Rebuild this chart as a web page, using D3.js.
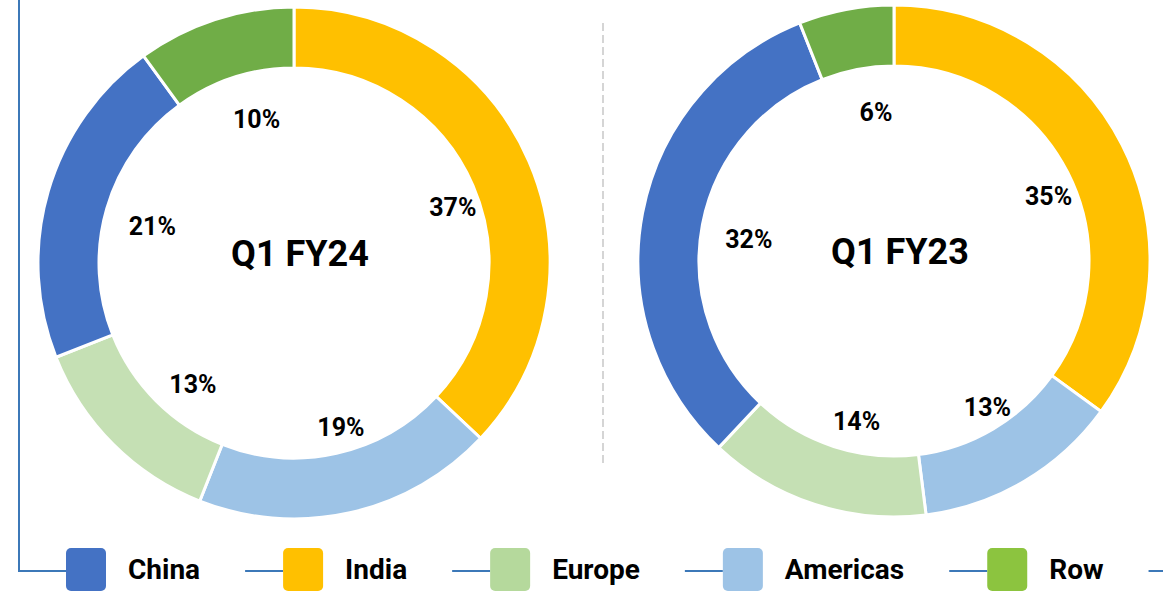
<!DOCTYPE html>
<html>
<head>
<meta charset="utf-8">
<script src="https://cdn.jsdelivr.net/npm/d3@7"></script>
<style>
	body { margin: 0; background: #fff; }
	svg { display: block; font-family: Roboto, "Noto Sans", sans-serif; }
</style>
</head>
<body>
<div id="chart"></div>
<script>
// Chart data
const categories = ['China', 'India', 'Europe', 'Americas', 'Row'];
// clockwise order, starting at 12 o'clock
const sliceOrder = ['India', 'Americas', 'Europe', 'China', 'Row'];
const fy24Values = [21, 37, 13, 19, 10];
const fy23Values = [32, 35, 14, 13, 6];
const chartTitles = ['Q1 FY24', 'Q1 FY23'];

const width = 1163;
const height = 592;

// Colours (ring and legend differ slightly)
const ringColor = {
	China: '#4472C4',
	India: '#FFC000',
	Europe: '#C5E0B4',
	Americas: '#9DC3E6',
	Row: '#70AD47'
};
const legendColor = {
	China: '#4472C4',
	India: '#FFC000',
	Europe: '#B5D99C',
	Americas: '#9DC3E6',
	Row: '#8CC43F'
};

const svg = d3.select('#chart')
	.append('svg')
	.attr('width', width)
	.attr('height', height);

// Blue frame line (left side + bottom behind legend)
const frameColor = '#3C78B8';
svg.append('line')
	.attr('x1', 19).attr('x2', 19)
	.attr('y1', 0).attr('y2', 571)
	.attr('stroke', frameColor)
	.attr('stroke-width', 2);
svg.append('line')
	.attr('x1', 18).attr('x2', width)
	.attr('y1', 571).attr('y2', 571)
	.attr('stroke', frameColor)
	.attr('stroke-width', 2);

// Dashed separator between the two doughnuts
svg.append('line')
	.attr('x1', 603).attr('x2', 603)
	.attr('y1', 23).attr('y2', 465)
	.attr('stroke', '#C8C8C8')
	.attr('stroke-width', 1.5)
	.attr('stroke-dasharray', '8,4');

const pie = d3.pie()
	.sort(null)
	.value(d => d.value);

const drawDonut = (values, title, cx, cy) => {
	const data = sliceOrder.map(name => ({
		name: name,
		value: values[categories.indexOf(name)]
	}));
	const outerR = 256;
	const innerR = 195;
	const arc = d3.arc().innerRadius(innerR).outerRadius(outerR);
	// labels sit inside the hole, slightly off-centre like the original
	const labelArc = d3.arc().innerRadius(160).outerRadius(160);
	const labelShift = [12, 8];

	const g = svg.append('g')
		.attr('transform', `translate(${cx}, ${cy})`);

	g.selectAll('path')
		.data(pie(data))
		.enter()
		.append('path')
		.attr('d', arc)
		.attr('fill', d => ringColor[d.data.name])
		.attr('stroke', '#fff')
		.attr('stroke-width', 3);

	g.selectAll('text.pct')
		.data(pie(data))
		.enter()
		.append('text')
		.attr('class', 'pct')
		.attr('transform', d => {
			const c = labelArc.centroid(d);
			return `translate(${c[0] + labelShift[0]}, ${c[1] + labelShift[1]})`;
		})
		.attr('text-anchor', 'middle')
		.attr('dy', '0.36em')
		.style('font-size', '25px')
		.style('font-weight', 700)
		.style('fill', '#000')
		.text(d => d.data.value + '%');

	g.append('text')
		.attr('x', 6)
		.attr('y', -10)
		.attr('text-anchor', 'middle')
		.attr('dy', '0.36em')
		.style('font-size', '36px')
		.style('font-weight', 700)
		.style('fill', '#000')
		.text(title);
};

drawDonut(fy24Values, chartTitles[0], 294, 263);
drawDonut(fy23Values, chartTitles[1], 894, 261);

// Legend: each item sits on a white patch over the blue line
const legend = svg.append('g').attr('class', 'legend');
let lx = 66;
categories.forEach(name => {
	const item = legend.append('g');
	const bg = item.append('rect')
		.attr('y', 560)
		.attr('height', 24)
		.attr('fill', '#fff');
	item.append('rect')
		.attr('x', lx)
		.attr('y', 548)
		.attr('width', 40)
		.attr('height', 43)
		.attr('rx', 5)
		.attr('fill', legendColor[name]);
	const txt = item.append('text')
		.attr('x', lx + 62)
		.attr('y', 579)
		.style('font-size', '28px')
		.style('font-weight', 700)
		.style('fill', '#000')
		.text(name);
	const tw = txt.node().getComputedTextLength();
	bg.attr('x', lx).attr('width', 62 + tw + 45);
	lx += 62 + tw + 83;
});
</script>
</body>
</html>
